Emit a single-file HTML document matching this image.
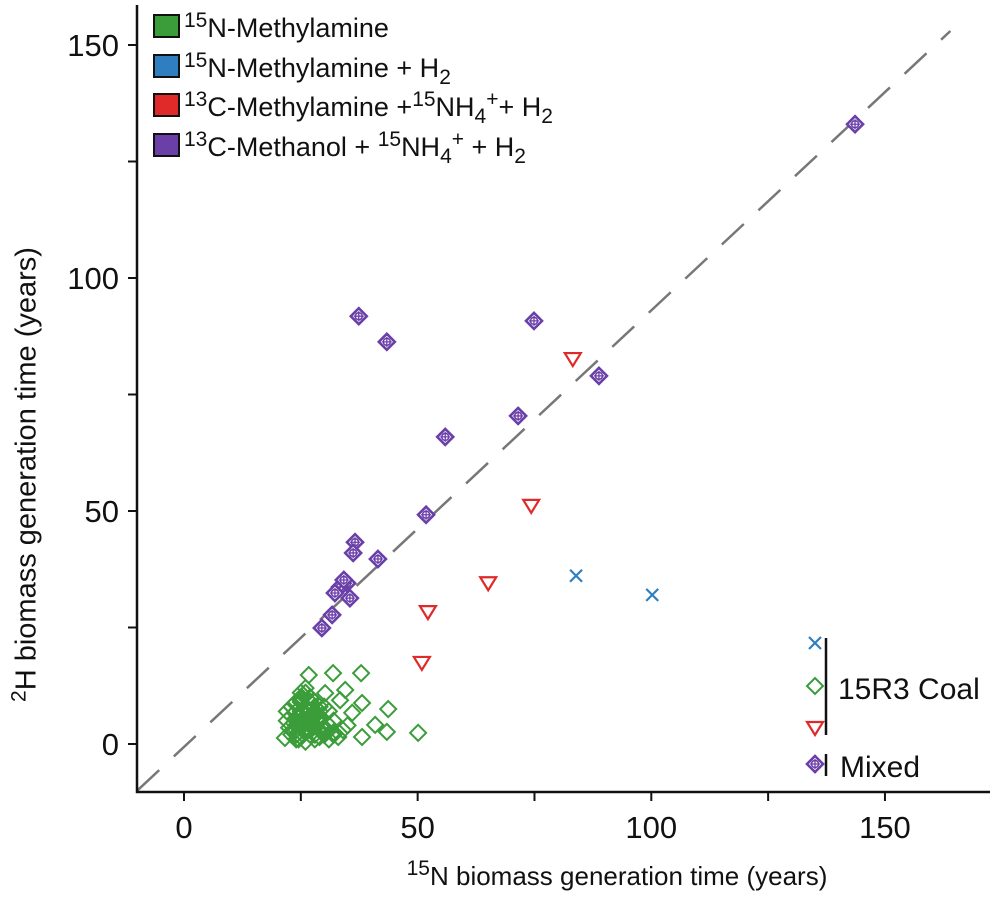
<!DOCTYPE html>
<html><head><meta charset="utf-8">
<style>
body{margin:0;background:#fff;}
svg text{font-family:"Liberation Sans",sans-serif;fill:#111;}
.lg{position:absolute;left:153px;font-family:'Liberation Sans',sans-serif;font-size:27px;color:#111;height:36px;line-height:36px;white-space:nowrap;}
.lg .sw{position:absolute;left:0;top:4px;width:23px;height:20px;border:2px solid #111;}
.lg .tx{position:absolute;left:31px;top:0;}
.sp{font-size:21px;position:relative;top:-10px;}
.sb{font-size:21px;position:relative;top:7px;}
</style></head>
<body>
<svg id="chart" width="1007" height="903" viewBox="0 0 1007 903" xmlns="http://www.w3.org/2000/svg"></svg>
<script>
const xTicks=[0,25,50,75,100,125,150];
const yTicks=[0,25,50,75,100,125,150];
const xTickLabels=["0","","50","","100","","150"];
const yTickLabels=["0","","50","","100","","150"];
const refLineX=[-10,164];
const refLineY=[-10,153];
const purpleX=[143.6,37.4,43.4,74.9,88.8,71.5,55.9,51.8,41.5,36.6,36.2,34.9,33.4,35.5,32.3,34.2,31.7,29.5];
const purpleY=[133.0,91.8,86.3,90.8,79.0,70.4,65.9,49.2,39.7,43.3,41.0,34.5,33.7,31.3,32.4,35.2,27.7,24.9];
const redX=[83.2,74.3,65.1,52.2,50.9];
const redY=[82.6,51.1,34.5,28.3,17.4];
const blueX=[83.9,100.2];
const blueY=[36.1,32.0];
const greenX=[26.7,31.9,37.9,34.5,30.2,38.1,43.7,33.4,36.0,40.9,43.4,50.1,21.6,23.3,38.1,25.3,
 24,25,26,27,28,29,30,31,32,33,22,23,24,25,26,27,28,29,30,31,32,23,24,25,26,27,28,29,30,25,26,27,28,24,26,28,30,32,34,35,27,29,31,
 22.5,23.5,24.5,25.5,26.5,27.5,28.5,29.5,30.5,23,24,25,26,27,28,29,24.5,25.5,26.5,27.5,28.5,25,26,27,28,29,30,22,23,24,25,26,27,28,29];
const greenY=[14.8,15.2,15.2,11.6,10.9,8.8,7.5,9.4,6.7,4.1,2.6,2.4,1.3,3.0,1.5,9.9,
 1,1.5,0.5,2,1,1.5,2,1,2.5,1.5,5,6,4,5,3,4,6,5,3,4,5,8,7,9,8,10,7,6,8,11,12,10,9,2,3,2,3,2,3,4,5,6,7,
 3.5,4.5,5.5,6.5,7.5,6,5,4,3,2,3,4,5,6,7,8,1,2,3,4,5,7,6,5,4,3,2,7,8,9,10,11,9,8,7];

const ns="http://www.w3.org/2000/svg";
const svg=document.getElementById('chart');
const X=v=>184+v*4.673;
const Y=v=>744-v*4.66;
function mk(tag,attrs,parent){const e=document.createElementNS(ns,tag);for(const k in attrs)e.setAttribute(k,attrs[k]);(parent||svg).appendChild(e);return e;}

let rl=mk('line',{x1:X(refLineX[0]),y1:Y(refLineY[0]),x2:X(refLineX[1]),y2:Y(refLineY[1]),stroke:'#777','stroke-width':2.5,'stroke-dasharray':'30 20'});



let ax=mk('path',{d:'M137 5 V792 H990',fill:'none',stroke:'#111','stroke-width':2.5});


xTicks.forEach((t,i)=>{
  let l=mk('line',{x1:X(t),x2:X(t),y1:792,y2:801,stroke:'#111','stroke-width':2});
  
  
  if(xTickLabels[i]){let tx=mk('text',{x:X(t),y:838,'text-anchor':'middle','font-size':31});tx.textContent=xTickLabels[i];
  
  }
});
yTicks.forEach((t,i)=>{
  let l=mk('line',{x1:128,x2:137,y1:Y(t),y2:Y(t),stroke:'#111','stroke-width':2});
  
  
  if(yTickLabels[i]){let tx=mk('text',{x:119,y:Y(t)+11,'text-anchor':'end','font-size':31});tx.textContent=yTickLabels[i];
  
  }
});

function greenMark(cx,cy,p){return mk('path',{d:`M${cx} ${cy-8} L${cx+8} ${cy} L${cx} ${cy+8} L${cx-8} ${cy} Z`,fill:'none',stroke:'#3a9d3a','stroke-width':2},p);}
function purpleMark(cx,cy,p){const g=mk('g',{},p);
  mk('path',{d:`M${cx} ${cy-8} L${cx+8} ${cy} L${cx} ${cy+8} L${cx-8} ${cy} Z`,fill:'#fff',stroke:'#6a3fa8','stroke-width':2.6},g);
  mk('circle',{cx:cx,cy:cy,r:3.5,fill:'none',stroke:'#6a3fa8','stroke-width':1.5},g);
  mk('path',{d:`M${cx-5} ${cy} H${cx+5} M${cx} ${cy-5} V${cy+5}`,stroke:'#6a3fa8','stroke-width':1.3},g);return g;}
function redMark(cx,cy,p){return mk('path',{d:`M${cx-8} ${cy-6} L${cx+8} ${cy-6} L${cx} ${cy+7} Z`,fill:'none',stroke:'#e02a2a','stroke-width':2.2},p);}
function blueMark(cx,cy,p){return mk('path',{d:`M${cx-6} ${cy-6} L${cx+6} ${cy+6} M${cx+6} ${cy-6} L${cx-6} ${cy+6}`,stroke:'#2f7fc0','stroke-width':2.2},p);}

greenX.forEach((v,i)=>{const m=greenMark(X(v),Y(greenY[i]));
  
  });
purpleX.forEach((v,i)=>{const m=purpleMark(X(v),Y(purpleY[i]));
  
  });
redX.forEach((v,i)=>{const m=redMark(X(v),Y(redY[i]));
  
  });
blueX.forEach((v,i)=>{const m=blueMark(X(v),Y(blueY[i]));
  
  });

const lg=mk('g',{});


blueMark(815,643,lg);greenMark(815,686,lg);redMark(815,728,lg);purpleMark(815,764,lg);
mk('line',{x1:826,x2:826,y1:638,y2:735,stroke:'#111','stroke-width':2.5},lg);
mk('line',{x1:826,x2:826,y1:754,y2:776,stroke:'#111','stroke-width':2.5},lg);
let t1=mk('text',{x:838,y:699,'font-size':30},lg);t1.textContent='15R3 Coal';
let t2=mk('text',{x:840,y:777,'font-size':30},lg);t2.textContent='Mixed';
</script>
<div class="lg" style="top:10px"><span class="sw" style="background:#3a9d3a"></span><span class="tx"><span class="sp">15</span>N-Methylamine</span></div>
<div class="lg" style="top:50px"><span class="sw" style="background:#2f7fc0"></span><span class="tx"><span class="sp">15</span>N-Methylamine + H<span class="sb">2</span></span></div>
<div class="lg" style="top:89px"><span class="sw" style="background:#e02a2a"></span><span class="tx"><span class="sp">13</span>C-Methylamine +<span class="sp">15</span>NH<span class="sb">4</span><span class="sp">+</span>+ H<span class="sb">2</span></span></div>
<div class="lg" style="top:129px"><span class="sw" style="background:#6a3fa8"></span><span class="tx"><span class="sp">13</span>C-Methanol + <span class="sp">15</span>NH<span class="sb">4</span><span class="sp">+</span> + H<span class="sb">2</span></span></div>
<div style="position:absolute;left:317px;width:600px;top:861px;text-align:center;font-family:'Liberation Sans',sans-serif;font-size:26px;color:#111;white-space:nowrap;"><span class="sp">15</span>N biomass generation time (years)</div>
<div style="position:absolute;left:-283px;top:458px;width:620px;text-align:center;transform:rotate(-90deg);font-family:'Liberation Sans',sans-serif;font-size:29px;color:#111;white-space:nowrap;"><span class="sp">2</span>H biomass generation time (years)</div>
</body></html>
